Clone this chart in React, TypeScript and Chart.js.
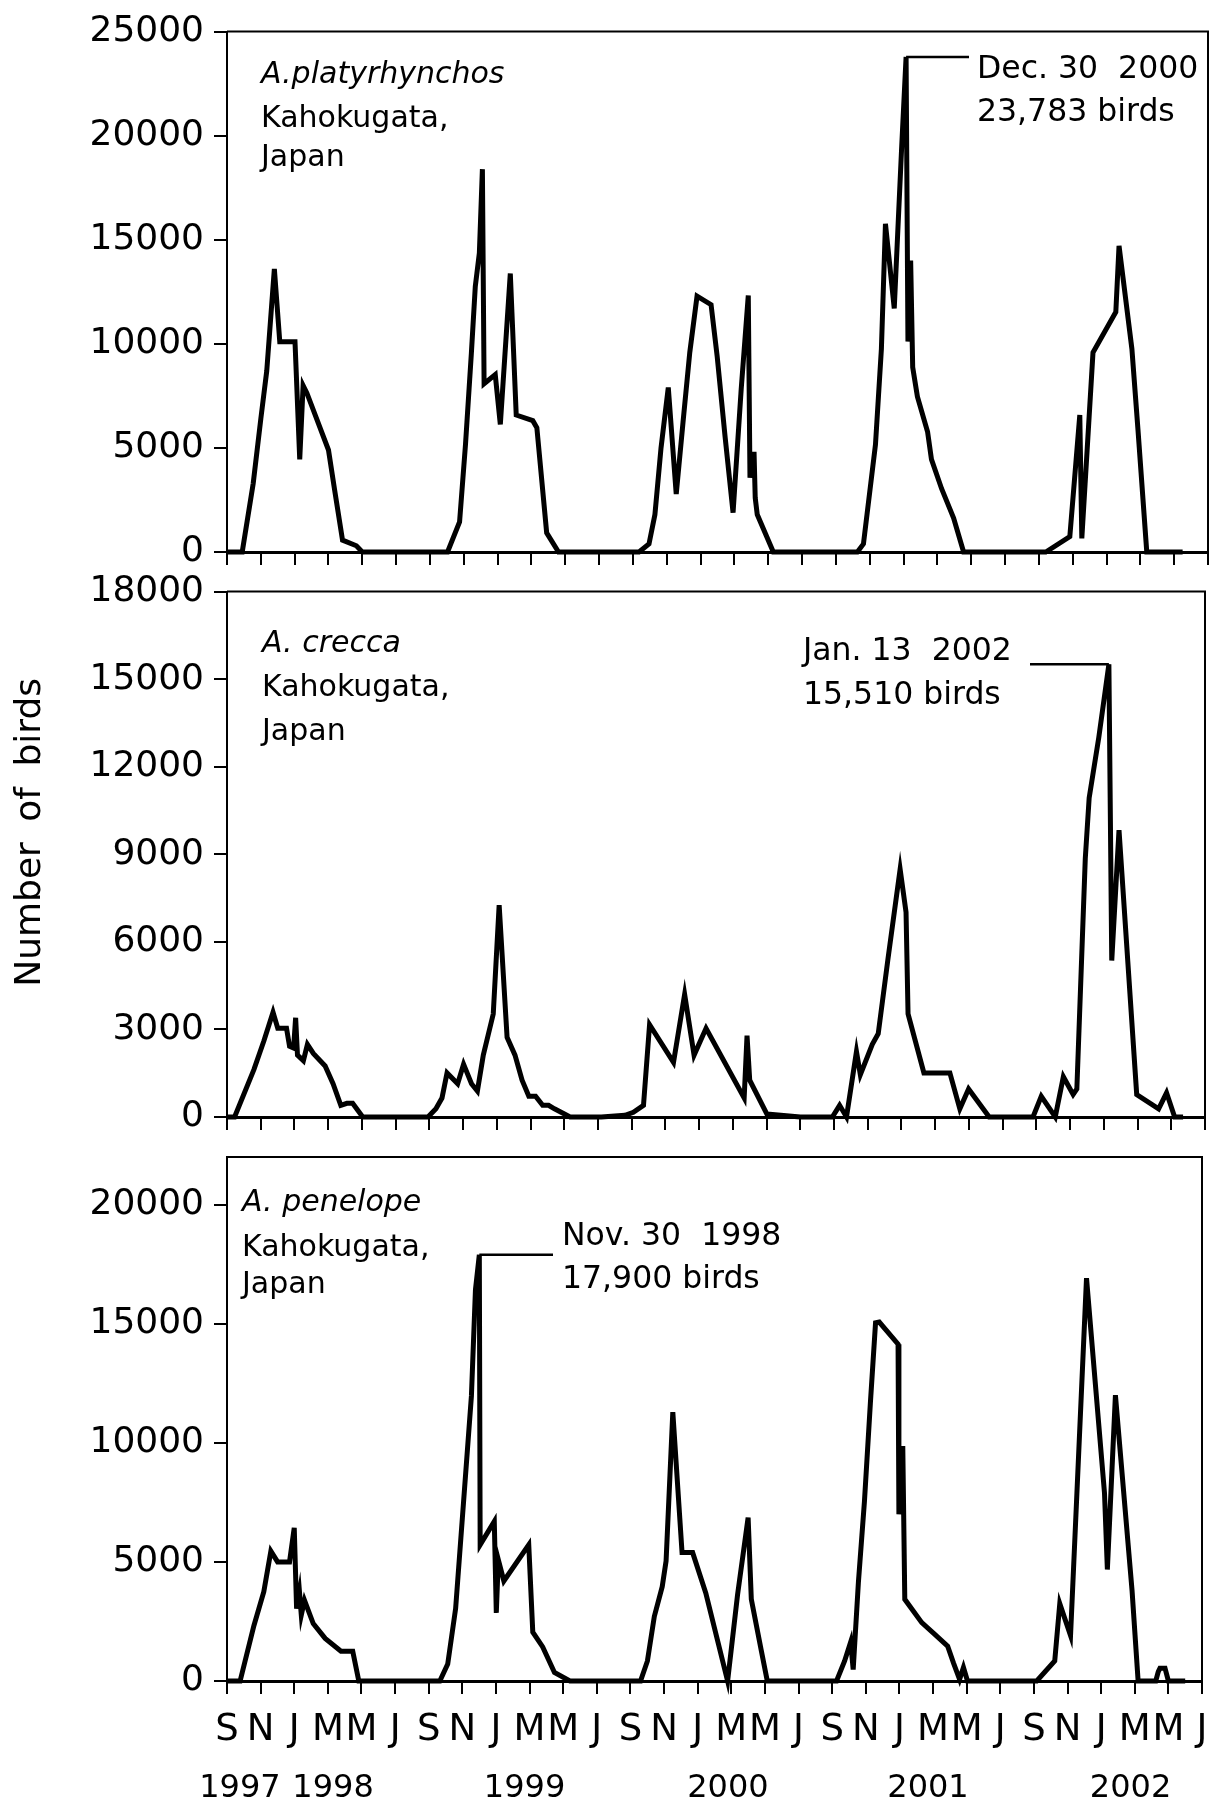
import React, { useEffect, useRef } from 'react';
import { Chart, registerables } from 'chart.js';

Chart.register(...registerables);

const FONT = '"DejaVu Sans", "Liberation Sans", sans-serif';

// x = months since 1 Sep 1997
const monthTickLabels = [
  'S', 'N', 'J', 'M', 'M', 'J',
  'S', 'N', 'J', 'M', 'M', 'J',
  'S', 'N', 'J', 'M', 'M', 'J',
  'S', 'N', 'J', 'M', 'M', 'J',
  'S', 'N', 'J', 'M', 'M', 'J',
];
const yearLabels = ['1997', '1998', '1999', '2000', '2001', '2002'];
const yearLabelMonths = [0.77, 6.31, 17.7, 29.8, 41.7, 53.75];

const platyYTicks = [0, 5000, 10000, 15000, 20000, 25000];
const creccaYTicks = [0, 3000, 6000, 9000, 12000, 15000, 18000];
const penelopeYTicks = [0, 5000, 10000, 15000, 20000];

// A. platyrhynchos
const platyMonths = [
  0, 0.9, 1.55, 2.0, 2.35, 2.8, 3.12, 4.02, 4.3, 4.5, 4.72, 6.0, 6.36, 6.83, 7.65, 8.0,
  13.04, 13.75, 14.1, 14.45, 14.68, 14.92, 15.1, 15.2, 15.86, 16.16, 16.75, 17.1, 18.08, 18.32, 18.9, 19.6,
  24.36, 24.95, 25.3, 25.66, 26.09, 26.56, 26.96, 27.36, 27.79, 28.62, 28.98, 29.45, 29.92, 30.4, 30.82, 30.92, 31.16, 31.23, 31.35, 32.3,
  37.27, 37.63, 38.34, 38.69, 38.93, 39.45, 39.88, 40.15, 40.26, 40.42, 40.54, 40.82, 41.42, 41.65, 42.25, 42.96, 43.55,
  48.41, 49.83, 50.42, 50.54, 51.2, 52.55, 52.74, 53.5, 53.86, 54.38, 56.5,
];
const platyCounts = [
  0, 0, 3300, 6400, 8700, 13600, 10100, 10100, 4450, 8000, 7640, 4900, 3000, 570, 300, 0,
  0, 1450, 5160, 9580, 12760, 14360, 18390, 8080, 8520, 6130, 13380, 6580, 6310, 5970, 920, 0,
  0, 390, 1800, 4990, 7900, 2780, 6220, 9580, 12290, 11880, 9400, 5520, 1890, 7810, 12320, 3570, 4810, 2600, 1800, 0,
  0, 390, 5160, 9760, 15770, 11700, 19300, 23783, 10110, 14000, 8880, 7460, 5780, 4450, 3040, 1630, 0,
  0, 740, 6580, 650, 9580, 11530, 14710, 9760, 5870, 0, 0,
];

// A. crecca
const creccaMonths = [
  0, 0.45, 1.6, 2.19, 2.73, 3.01, 3.53, 3.71, 3.95, 4.07, 4.18, 4.53, 4.77, 5.12, 5.82, 6.29, 6.75, 7.11, 7.45, 8.05,
  11.92, 12.39, 12.75, 13.05, 13.68, 14.03, 14.5, 14.85, 15.2, 15.79, 16.14, 16.61, 17.08, 17.5, 17.9, 18.3, 18.72, 19.07, 19.42, 20.35,
  22.2, 23.6, 24.1, 24.7, 25.06, 26.48, 27.14, 27.7, 28.41, 30.67, 30.84, 31.0, 32.02, 34.0,
  35.9, 36.33, 36.74, 37.33, 37.56, 38.27, 38.62, 39.2, 39.92, 40.27, 40.39, 41.33, 42.87, 43.46, 43.98, 45.2,
  47.8, 48.29, 49.12, 49.6, 50.18, 50.4, 50.9, 51.13, 51.7, 52.3, 52.47, 52.9, 53.95, 55.25, 55.72, 56.2, 56.7,
];
const creccaCounts = [
  0, 0, 1630, 2610, 3590, 3040, 3040, 2420, 2360, 3400, 2120, 1930, 2490, 2180, 1750, 1140, 400, 470, 470, 0,
  0, 280, 650, 1510, 1140, 1810, 1140, 890, 2120, 3530, 7260, 2730, 2120, 1260, 710, 710, 400, 400, 280, 0,
  0, 60, 160, 400, 3160, 1870, 4200, 2120, 3040, 650, 2790, 1260, 100, 0,
  0, 400, 0, 2240, 1450, 2490, 2850, 5420, 8490, 7020, 3530, 1510, 1510, 280, 960, 0,
  0, 710, 0, 1380, 770, 960, 8850, 10930, 13000, 15510, 5360, 9830, 770, 280, 830, 0, 0,
];

// A. penelope
const penelopeMonths = [
  0, 0.78, 1.6, 2.19, 2.61, 3.01, 3.72, 4.0, 4.14, 4.31, 4.42, 4.61, 5.13, 5.84, 6.78, 7.48, 7.84,
  12.66, 13.13, 13.6, 14.07, 14.54, 14.78, 15.01, 15.06, 15.9, 16.02, 16.14, 16.47, 17.95, 18.19, 18.78, 19.48, 20.4,
  24.6, 25.01, 25.42, 25.89, 26.12, 26.52, 27.07, 27.7, 28.48, 29.78, 30.37, 31.0, 31.19, 31.78, 32.14,
  36.26, 36.74, 37.1, 37.25, 37.56, 37.92, 38.27, 38.58, 38.8, 39.92, 39.97, 40.2, 40.32, 41.33, 42.04, 42.87, 43.22, 43.58, 43.81, 44.05,
  48.17, 49.24, 49.54, 50.18, 51.13, 52.2, 52.37, 52.85, 53.84, 54.2, 55.25, 55.4, 55.5, 55.8, 56.0, 57.0,
];
const penelopeCounts = [
  0, 0, 2320, 3750, 5450, 5000, 5000, 6430, 3040, 3750, 2770, 3390, 2410, 1790, 1250, 1250, 0,
  0, 710, 3040, 7500, 11970, 16430, 17900, 5720, 6700, 2860, 5090, 4200, 5720, 2050, 1430, 360, 0,
  0, 840, 2710, 3960, 5040, 11290, 5390, 5390, 3700, 0, 3610, 6860, 3430, 1290, 0,
  0, 840, 1640, 480, 4140, 7540, 11640, 15040, 15070, 14140, 7000, 9860, 3430, 2450, 2000, 1460, 750, 70, 570, 0,
  0, 840, 3250, 1910, 16910, 7890, 4680, 12000, 3790, 0, 0, 390, 540, 540, 0, 0,
];

type TextItem = { text: string; x: number; y: number; italic?: boolean; size?: number };

interface PanelSpec {
  key: string;
  canvasTop: number;
  canvasHeight: number;
  areaTop: number;
  areaBottom: number;
  areaLeft: number;
  areaRight: number;
  yMax: number;
  yTicks: number[];
  months: number[];
  counts: number[];
  texts: TextItem[];
  peakMonth: number;
  peakCount: number;
  leaderEndX: number;
  monthLabels: boolean;
  yTitle: string;
}

const panels: PanelSpec[] = [
  {
    key: 'platy',
    canvasTop: 0,
    canvasHeight: 600,
    areaTop: 29,
    areaBottom: 552,
    areaLeft: 227,
    areaRight: 1208,
    yMax: 25000,
    yTicks: platyYTicks,
    months: platyMonths,
    counts: platyCounts,
    texts: [
      { text: 'A.platyrhynchos', x: 261, y: 83, italic: true },
      { text: 'Kahokugata,', x: 261, y: 127 },
      { text: 'Japan', x: 261, y: 166 },
      { text: 'Dec. 30  2000', x: 977, y: 78, size: 31.5 },
      { text: '23,783 birds', x: 977, y: 121, size: 31.5 },
    ],
    peakMonth: 40.15,
    peakCount: 23783,
    leaderEndX: 969,
    monthLabels: false,
    yTitle: '',
  },
  {
    key: 'crecca',
    canvasTop: 560,
    canvasHeight: 600,
    areaTop: 591,
    areaBottom: 1117,
    areaLeft: 227,
    areaRight: 1205,
    yMax: 18000,
    yTicks: creccaYTicks,
    months: creccaMonths,
    counts: creccaCounts,
    texts: [
      { text: 'A. crecca', x: 262, y: 652, italic: true },
      { text: 'Kahokugata,', x: 262, y: 696 },
      { text: 'Japan', x: 262, y: 740 },
      { text: 'Jan. 13  2002', x: 803, y: 660, size: 31.5 },
      { text: '15,510 birds', x: 803, y: 704, size: 31.5 },
    ],
    peakMonth: 52.3,
    peakCount: 15510,
    leaderEndX: 1030,
    monthLabels: false,
    yTitle: 'Number of birds',
  },
  {
    key: 'penelope',
    canvasTop: 1120,
    canvasHeight: 687,
    areaTop: 1157,
    areaBottom: 1681,
    areaLeft: 227,
    areaRight: 1202,
    yMax: 22000,
    yTicks: penelopeYTicks,
    months: penelopeMonths,
    counts: penelopeCounts,
    texts: [
      { text: 'A. penelope', x: 242, y: 1211, italic: true },
      { text: 'Kahokugata,', x: 242, y: 1256 },
      { text: 'Japan', x: 242, y: 1293 },
      { text: 'Nov. 30  1998', x: 562, y: 1245, size: 31.5 },
      { text: '17,900 birds', x: 562, y: 1288, size: 31.5 },
    ],
    peakMonth: 15.01,
    peakCount: 17900,
    leaderEndX: 553,
    monthLabels: true,
    yTitle: '',
  },
];

function PanelChart({ spec }: { spec: PanelSpec }) {
  const ref = useRef<HTMLCanvasElement | null>(null);

  useEffect(() => {
    const canvas = ref.current;
    if (!canvas) return;
    const localTop = spec.areaTop - spec.canvasTop;
    const localBottom = spec.areaBottom - spec.canvasTop;
    const monthAxisH = spec.monthLabels ? 70 : 20;
    const yearAxisH = spec.monthLabels ? spec.canvasHeight - localBottom - monthAxisH : 0;
    const padBottom = spec.canvasHeight - localBottom - monthAxisH - yearAxisH;

    const decor = {
      id: 'decor_' + spec.key,
      afterDraw(chart: any) {
        const { ctx, chartArea: a } = chart;
        ctx.save();
        ctx.strokeStyle = '#000';
        ctx.lineWidth = 2;
        ctx.beginPath();
        ctx.moveTo(a.left, a.top);
        ctx.lineTo(a.right, a.top);
        ctx.lineTo(a.right, a.bottom);
        ctx.stroke();

        // leader line from the peak
        const px = chart.scales.x.getPixelForValue(spec.peakMonth);
        const py = chart.scales.y.getPixelForValue(spec.peakCount);
        ctx.lineWidth = 2.5;
        ctx.beginPath();
        ctx.moveTo(px, py);
        ctx.lineTo(spec.leaderEndX, py);
        ctx.stroke();

        ctx.fillStyle = '#000';
        ctx.textAlign = 'left';
        ctx.textBaseline = 'alphabetic';
        for (const t of spec.texts) {
          ctx.font = (t.italic ? 'italic ' : '') + (t.size || 30) + 'px ' + FONT;
          ctx.fillText(t.text, t.x, t.y - spec.canvasTop);
        }

        if (spec.yTitle) {
          const cy = (a.top + a.bottom) / 2 - 22;
          ctx.translate(31, cy);
          ctx.rotate(-Math.PI / 2);
          ctx.font = '36px ' + FONT;
          ctx.textAlign = 'center';
          ctx.textBaseline = 'middle';
          try {
            (ctx as any).wordSpacing = '9px';
          } catch (e) {
            /* ignore */
          }
          ctx.fillText(spec.yTitle, 0, 0);
        }
        ctx.restore();
      },
    };

    const scales: any = {
      x: {
        type: 'linear',
        position: 'bottom',
        weight: 0,
        min: 0,
        max: 58,
        ticks: {
          stepSize: 2,
          autoSkip: false,
          maxRotation: 0,
          minRotation: 0,
          display: spec.monthLabels,
          padding: 14,
          color: '#000',
          font: { family: FONT, size: 37 },
          callback: (_v: any, i: number) => monthTickLabels[i],
        },
        grid: {
          display: true,
          drawOnChartArea: false,
          drawTicks: true,
          tickLength: 13,
          color: '#000',
          lineWidth: 2,
        },
        border: { display: true, color: '#000', width: 3 },
        afterFit: (s: any) => {
          s.height = monthAxisH;
        },
      },
      y: {
        type: 'linear',
        position: 'left',
        min: 0,
        max: spec.yMax,
        afterBuildTicks: (s: any) => {
          s.ticks = spec.yTicks.map((v) => ({ value: v }));
        },
        ticks: {
          padding: 10,
          color: '#000',
          font: { family: FONT, size: 36 },
          callback: (v: any) => String(v),
        },
        grid: {
          display: true,
          drawOnChartArea: false,
          drawTicks: true,
          tickLength: 13,
          color: '#000',
          lineWidth: 2,
        },
        border: { display: true, color: '#000', width: 2 },
        afterFit: (s: any) => {
          s.width = spec.areaLeft;
        },
      },
    };

    if (spec.monthLabels) {
      scales.xYear = {
        type: 'linear',
        position: 'bottom',
        weight: 1,
        min: 0,
        max: 58,
        afterBuildTicks: (s: any) => {
          s.ticks = yearLabelMonths.map((v) => ({ value: v }));
        },
        ticks: {
          autoSkip: false,
          maxRotation: 0,
          minRotation: 0,
          padding: 18,
          color: '#000',
          font: { family: FONT, size: 32 },
          callback: (_v: any, i: number) => yearLabels[i],
        },
        grid: { display: false, drawTicks: false, drawOnChartArea: false },
        border: { display: false },
        afterFit: (s: any) => {
          s.height = yearAxisH;
        },
      };
    }

    const chart = new Chart(canvas, {
      type: 'line',
      data: {
        datasets: [
          {
            data: spec.months.map((m, i) => ({ x: m, y: spec.counts[i] })),
            borderColor: '#000',
            borderWidth: 5,
            pointRadius: 0,
            tension: 0,
            fill: false,
            clip: false as any,
            borderJoinStyle: 'miter',
          } as any,
        ],
      },
      options: {
        responsive: false,
        maintainAspectRatio: false,
        animation: false,
        devicePixelRatio: 1,
        events: [],
        layout: {
          padding: {
            top: localTop,
            left: 0,
            right: 1223 - spec.areaRight,
            bottom: padBottom,
          },
        },
        plugins: {
          legend: { display: false },
          tooltip: { enabled: false },
          title: { display: false },
        },
        scales,
      } as any,
      plugins: [decor as any],
    });
    return () => chart.destroy();
  }, [spec]);

  return (
    <canvas
      ref={ref}
      width={1223}
      height={spec.canvasHeight}
      style={{
        position: 'absolute',
        left: 0,
        top: spec.canvasTop,
        width: 1223,
        height: spec.canvasHeight,
      }}
    />
  );
}

export default function App() {
  return (
    <div
      style={{
        position: 'absolute',
        left: 0,
        top: 0,
        width: 1223,
        height: 1807,
        background: '#fff',
        overflow: 'hidden',
      }}
    >
      {panels.map((p) => (
        <PanelChart key={p.key} spec={p} />
      ))}
    </div>
  );
}
